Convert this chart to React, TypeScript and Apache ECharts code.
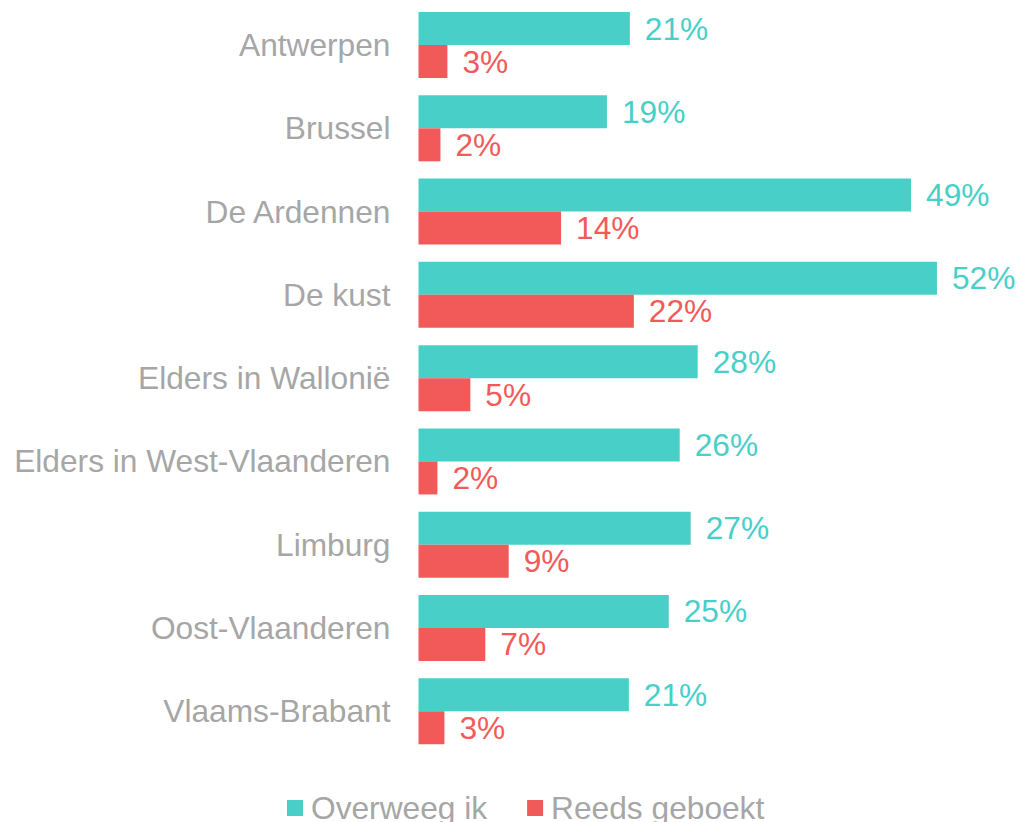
import React, { useEffect, useRef } from "react";
import * as echarts from "echarts";

const categories = [
  "Antwerpen",
  "Brussel",
  "De Ardennen",
  "De kust",
  "Elders in Wallonië",
  "Elders in West-Vlaanderen",
  "Limburg",
  "Oost-Vlaanderen",
  "Vlaams-Brabant",
];
const overweegIk = [21.2, 18.9, 49.4, 52.0, 28.0, 26.2, 27.3, 25.1, 21.1];
const reedsGeboekt = [2.9, 2.2, 14.3, 21.6, 5.2, 1.9, 9.05, 6.7, 2.6];
const seriesNames = ["Overweeg ik", "Reeds geboekt"];

const TEAL = "#48CFC8";
const RED = "#F25A5A";
const GRAY = "#A6A6A6";
const FONT = "'Liberation Sans', Arial, sans-serif";
const FS = 31.7;

export default function App() {
  const ref = useRef<HTMLDivElement>(null);
  useEffect(() => {
    if (!ref.current) return;
    const chart = echarts.init(ref.current, null, { renderer: "svg" });
    const label = (color: string) => ({
      show: true,
      position: "right",
      distance: 15,
      color,
      fontSize: FS,
      fontFamily: FONT,
      formatter: (p: any) => Math.round(p.value) + "%",
    });
    chart.setOption({
      animation: false,
      grid: { left: 418.5, right: 6.3, top: 3.4, bottom: 69.1, containLabel: false },
      xAxis: {
        type: "value",
        min: 0,
        max: 60,
        show: false,
      },
      yAxis: {
        type: "category",
        data: categories,
        inverse: true,
        axisLine: { show: false },
        axisTick: { show: false },
        splitLine: { show: false },
        axisLabel: {
          color: GRAY,
          fontSize: FS,
          fontFamily: FONT,
          margin: 28,
        },
      },
      legend: {
        data: seriesNames,
        left: 287,
        top: 792,
        padding: 0,
        itemWidth: 16,
        itemHeight: 16,
        itemGap: 40,
        icon: "rect",
        textStyle: {
          color: GRAY,
          fontSize: FS,
          fontFamily: FONT,
          padding: [0, 0, 0, 3],
        },
      },
      series: [
        {
          name: seriesNames[0],
          type: "bar",
          data: overweegIk,
          barWidth: 33,
          barGap: "0%",
          itemStyle: { color: TEAL },
          label: label(TEAL),
        },
        {
          name: seriesNames[1],
          type: "bar",
          data: reedsGeboekt,
          barWidth: 33,
          barGap: "0%",
          itemStyle: { color: RED },
          label: label(RED),
        },
      ],
    });
    return () => chart.dispose();
  }, []);
  return (
    <div
      ref={ref}
      style={{ position: "absolute", left: 0, top: 0, width: 1023, height: 822 }}
    />
  );
}
